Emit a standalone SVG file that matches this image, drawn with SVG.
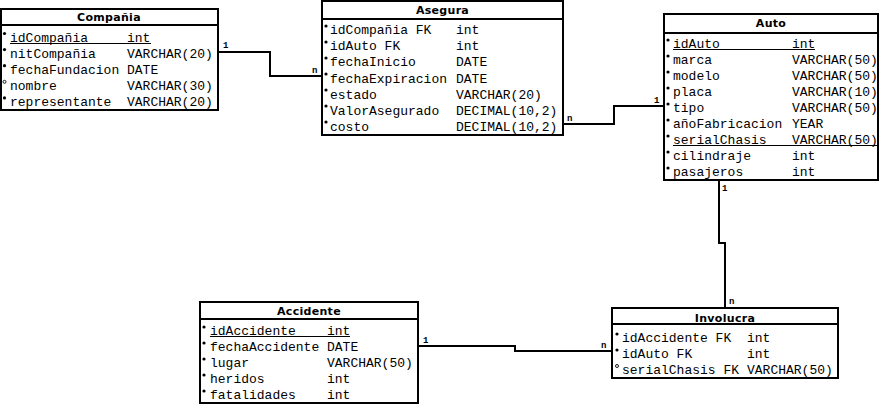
<svg xmlns="http://www.w3.org/2000/svg" width="882" height="404" viewBox="0 0 882 404">
<style>
.box{fill:#fff;stroke:#000;stroke-width:2}
.sep{stroke:#000;stroke-width:2}
.title{font-family:"DejaVu Sans",sans-serif;font-weight:bold;font-size:11px;text-anchor:middle;fill:#000;letter-spacing:0.3px}
.f{font-family:"Liberation Mono",monospace;font-size:13px;fill:#000}
.ul{stroke:#000;stroke-width:1}
.dot{fill:#000}
.odot{fill:none;stroke:#000;stroke-width:0.9}
.conn{fill:none;stroke:#000;stroke-width:2}
.lbl{font-family:"Liberation Mono",monospace;font-size:9px;font-weight:bold;fill:#000}
</style>
<g id="connectors">
<polyline class="conn" points="218,52 270,52 270,76 322,76"/>
<polyline class="conn" points="563,124 614,124 614,106 664,106"/>
<polyline class="conn" points="719,180 719,243 725,243 725,308"/>
<polyline class="conn" points="418,346 515,346 515,351 612,351"/>
<text class="lbl" x="223" y="48">1</text>
<text class="lbl" x="312" y="73">n</text>
<text class="lbl" x="567" y="121">n</text>
<text class="lbl" x="654" y="103">1</text>
<text class="lbl" x="722" y="191">1</text>
<text class="lbl" x="729" y="304">n</text>
<text class="lbl" x="423" y="343">1</text>
<text class="lbl" x="601" y="348">n</text>
</g>
<g id="compania">
<rect class="box" x="1" y="9" width="217" height="101"/>
<line class="sep" x1="1" y1="25" x2="218" y2="25"/>
<text class="title" x="109" y="21">Compañia</text>
<circle class="dot" cx="4.5" cy="33.5" r="1.6"/><text class="f" x="10" y="41.8">idCompañia</text><text class="f" x="127" y="41.8">int</text>
<line class="ul" x1="10" y1="43.5" x2="151" y2="43.5"/>
<circle class="dot" cx="4.5" cy="49.6" r="1.6"/><text class="f" x="10" y="57.9">nitCompañia</text><text class="f" x="127" y="57.9">VARCHAR(20)</text>
<circle class="dot" cx="4.5" cy="65.7" r="1.6"/><text class="f" x="10" y="74">fechaFundacion</text><text class="f" x="127" y="74">DATE</text>
<circle class="odot" cx="4.5" cy="81.8" r="1.5"/><text class="f" x="10" y="90.1">nombre</text><text class="f" x="127" y="90.1">VARCHAR(30)</text>
<circle class="dot" cx="4.5" cy="97.9" r="1.6"/><text class="f" x="10" y="106.2">representante</text><text class="f" x="127" y="106.2">VARCHAR(20)</text>
</g>
<g id="asegura">
<rect class="box" x="322" y="1" width="241" height="134"/>
<line class="sep" x1="322" y1="19" x2="563" y2="19"/>
<text class="title" x="442.5" y="14">Asegura</text>
<circle class="dot" cx="326" cy="26" r="1.6"/><text class="f" x="330" y="34.3">idCompañia FK</text><text class="f" x="456" y="34.3">int</text>
<circle class="dot" cx="326" cy="42" r="1.6"/><text class="f" x="330" y="50.4">idAuto FK</text><text class="f" x="456" y="50.4">int</text>
<circle class="dot" cx="326" cy="58" r="1.6"/><text class="f" x="330" y="66.4">fechaInicio</text><text class="f" x="456" y="66.4">DATE</text>
<circle class="dot" cx="326" cy="74" r="1.6"/><text class="f" x="330" y="82.5">fechaExpiracion</text><text class="f" x="456" y="82.5">DATE</text>
<circle class="dot" cx="326" cy="90" r="1.6"/><text class="f" x="330" y="98.5">estado</text><text class="f" x="456" y="98.5">VARCHAR(20)</text>
<circle class="dot" cx="326" cy="106" r="1.6"/><text class="f" x="330" y="114.6">ValorAsegurado</text><text class="f" x="456" y="114.6">DECIMAL(10,2)</text>
<circle class="dot" cx="326" cy="122" r="1.6"/><text class="f" x="330" y="130.6">costo</text><text class="f" x="456" y="130.6">DECIMAL(10,2)</text>
</g>
<g id="auto">
<rect class="box" x="664" y="14" width="214" height="166"/>
<line class="sep" x1="664" y1="33" x2="878" y2="33"/>
<text class="title" x="771" y="27">Auto</text>
<circle class="dot" cx="668" cy="40" r="1.6"/><text class="f" x="673" y="48">idAuto</text><text class="f" x="792" y="48">int</text>
<line class="ul" x1="673" y1="49.5" x2="815" y2="49.5"/>
<circle class="dot" cx="668" cy="56" r="1.6"/><text class="f" x="673" y="64">marca</text><text class="f" x="792" y="64">VARCHAR(50)</text>
<circle class="dot" cx="668" cy="72" r="1.6"/><text class="f" x="673" y="80">modelo</text><text class="f" x="792" y="80">VARCHAR(50)</text>
<circle class="dot" cx="668" cy="88" r="1.6"/><text class="f" x="673" y="96">placa</text><text class="f" x="792" y="96">VARCHAR(10)</text>
<circle class="dot" cx="668" cy="104" r="1.6"/><text class="f" x="673" y="112">tipo</text><text class="f" x="792" y="112">VARCHAR(50)</text>
<circle class="dot" cx="668" cy="120" r="1.6"/><text class="f" x="673" y="128">añoFabricacion</text><text class="f" x="792" y="128">YEAR</text>
<circle class="dot" cx="668" cy="136" r="1.6"/><text class="f" x="673" y="144">serialChasis</text><text class="f" x="792" y="144">VARCHAR(50)</text>
<line class="ul" x1="673" y1="145.5" x2="877" y2="145.5"/>
<circle class="dot" cx="668" cy="152" r="1.6"/><text class="f" x="673" y="160">cilindraje</text><text class="f" x="792" y="160">int</text>
<circle class="dot" cx="668" cy="168" r="1.6"/><text class="f" x="673" y="176">pasajeros</text><text class="f" x="792" y="176">int</text>
</g>
<g id="accidente">
<rect class="box" x="200" y="302" width="218" height="101"/>
<line class="sep" x1="200" y1="319" x2="418" y2="319"/>
<text class="title" x="309" y="315">Accidente</text>
<circle class="dot" cx="204" cy="327" r="1.6"/><text class="f" x="210" y="335">idAccidente</text><text class="f" x="327" y="335">int</text>
<line class="ul" x1="210" y1="336.5" x2="350" y2="336.5"/>
<circle class="dot" cx="204" cy="343" r="1.6"/><text class="f" x="210" y="351">fechaAccidente</text><text class="f" x="327" y="351">DATE</text>
<circle class="dot" cx="204" cy="359" r="1.6"/><text class="f" x="210" y="367">lugar</text><text class="f" x="327" y="367">VARCHAR(50)</text>
<circle class="dot" cx="204" cy="375" r="1.6"/><text class="f" x="210" y="383">heridos</text><text class="f" x="327" y="383">int</text>
<circle class="dot" cx="204" cy="391" r="1.6"/><text class="f" x="210" y="399">fatalidades</text><text class="f" x="327" y="399">int</text>
</g>
<g id="involucra">
<rect class="box" x="612" y="308" width="226" height="70"/>
<line class="sep" x1="612" y1="324" x2="838" y2="324"/>
<text class="title" x="725" y="322">Involucra</text>
<circle class="dot" cx="617" cy="334" r="1.6"/><text class="f" x="622" y="342">idAccidente FK</text><text class="f" x="747" y="342">int</text>
<circle class="dot" cx="617" cy="350" r="1.6"/><text class="f" x="622" y="358">idAuto FK</text><text class="f" x="747" y="358">int</text>
<circle class="odot" cx="617" cy="366" r="1.5"/><text class="f" x="622" y="374">serialChasis FK</text><text class="f" x="747" y="374">VARCHAR(50)</text>
</g>
</svg>
